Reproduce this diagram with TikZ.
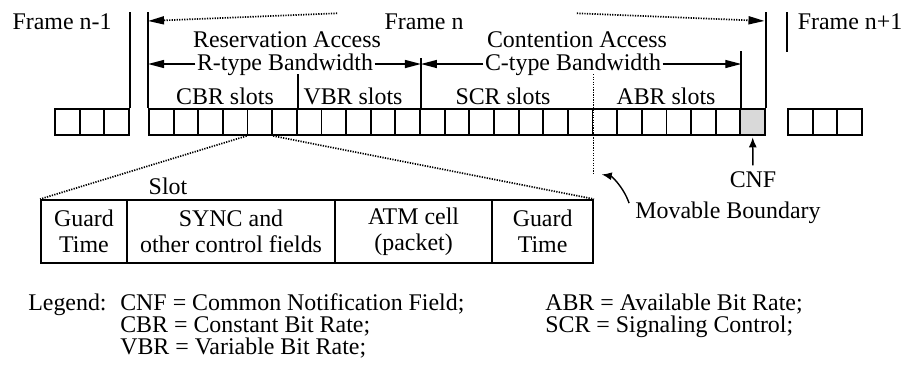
\documentclass[tikz,border=0pt]{standalone}
\usepackage{fontspec}
\setmainfont{Liberation Serif}
\usepackage{tikz}
\usetikzlibrary{
	positioning,						% Relative positioning
	arrows.meta,						% Advanced arrows
	calc								% Calculate point coordinates
}

\begin{document}
\begin{tikzpicture}
		[
		,x=0.025cm, y=-0.025cm
		,node distance = 0pt
		,cell/.style = {
			,draw=black
			,minimum height=0.65cm
			,minimum width=0.616cm
			,inner sep=0pt
			,line width=1.3pt}
		,field/.style = {
			,draw=black
			,minimum height=1.575cm
			,inner sep=0pt
			,align=center
			,line width=1.3pt
			,font=\fontsize{17}{18.5}\selectfont}
		,text_label/.style = {
			,inner sep=0pt
			,anchor=base
			,font=\fontsize{17}{15.6}\selectfont}
		,boundary/.style = {
			,line width=1.3pt}
		,dotted_line/.style = {
			,line width=1.2pt
			,dash pattern=on 0.9pt off 0.9pt}
		,arrow_head/.tip = {
			Triangle[length=4mm, width=2mm]}
		]
		\useasboundingbox (0,0) rectangle (904,371);
		
		% Rows of slots
		\foreach \i in {1,2,3}
			\node [cell] (p\i) at ({129-(3.5-\i)*24.64}, 122) {};
		\foreach \i in {1,...,24}
			\node [cell] (c\i) at ({149+(\i-0.5)*24.64}, 122) {};
		\node [cell, fill=gray!30] (c25) at ({149+24.5*24.64}, 122) {};
		\foreach \i in {1,2,3}
			\node [cell] (q\i) at ({788+(\i-0.5)*24.64}, 122) {};
		
		% Frame boundaries
		\coordinate (top) at (0,12);
		\draw[boundary] (p3.north east) -- (p3.north east |- top);
		\draw[boundary] (c1.north west) -- (c1.north west |- top);
		\draw[boundary] (c25.north east) -- (c25.north east |- top);
		\draw[boundary] (q1.north west |- top) -- ++(0,40);
		\draw[boundary] (c11.north east) -- ++(0,-50);
		\draw[boundary] (c24.north east) -- ++(0,-57);
		\draw[boundary] (c6.north east) -- ++(0,-34);
		\coordinate (mb_end) at ($(c18.south east)+(0,37)$);
		\draw[dotted_line] ($(c18.north east)+(0,-34)$) -- (mb_end);
		
		% Frame labels
		\node[text_label] (frame_prev) at (62,29)  {Frame n-1};
		\node[text_label] (frame_cur)  at (424,29) {Frame n};
		\node[text_label] (frame_next) at (850,29) {Frame n+1};
		\draw[dotted_line, -arrow_head] ($(frame_cur.west)+(-47,-8)$) -- (c1.north west |- 0,21);
		\draw[dotted_line, -arrow_head, shorten >=1pt] ($(frame_cur.east)+(113,-8)$) -- (c25.north east |- 0,21);
		
		% Access and bandwidth
		\node[text_label] (res_access) at (287,47) {Reservation Access};
		\node[text_label] (con_access) at (577,47) {Contention Access};
		\node[text_label, inner xsep=1pt] (r_bw) at (285,70) {R-type Bandwidth};
		\node[text_label, inner xsep=1pt] (c_bw) at (573,70) {C-type Bandwidth};
		\draw[line width=1pt, -arrow_head] (r_bw.west |- 0,64) -- (c1.north west |- 0,64);
		\draw[line width=1pt, -arrow_head] (r_bw.east |- 0,64) -- (c11.north east |- 0,64);
		\draw[line width=1pt, -arrow_head] (c_bw.west |- 0,64) -- (c11.north east |- 0,64);
		\draw[line width=1pt, -arrow_head] (c_bw.east |- 0,64) -- (c24.north east |- 0,64);
		
		% Slot types
		\node[text_label] (cbr) at (225,104) {CBR slots};
		\node[text_label] (vbr) at (353,104) {VBR slots};
		\node[text_label] (scr) at (503,104) {SCR slots};
		\node[text_label] (abr) at (666,104) {ABR slots};
		
		% Slot format
		\node[text_label] (slot_label) at (168,194) {Slot};
		\node[field, minimum width=2.15cm] (guard_a) at (84,231.5) {Guard\\Time};
		\node[field, minimum width=5.2cm, right=-\pgflinewidth of guard_a]   (sync)    {SYNC and\\other control fields};
		\node[field, minimum width=3.925cm, right=-\pgflinewidth of sync]    (atm)     {ATM cell\\(packet)};
		\node[field, minimum width=2.525cm, right=-\pgflinewidth of atm]     (guard_b) {Guard\\Time};
		\draw[dotted_line] (c5.south west) -- (guard_a.north west);
		\draw[dotted_line] (c5.south east) -- (guard_b.north east);
		
		% CNF and movable boundary
		\node[text_label] (cnf_label) at (753,187) {CNF};
		\draw[line width=1pt, -{Latex[length=2.5mm, width=2mm]}, shorten <=4pt, shorten >=1pt] (cnf_label.north) -- (c25.south);
		\node[text_label] (mb_label) at (728,218) {Movable Boundary};
		\draw[line width=1pt, -{Latex[length=2.5mm, width=2mm]}, shorten >=6pt] ($(mb_label.north west)+(-6,2)$) to[bend right=30] (mb_end);
		
		% Legend
		\node[text_label, anchor=base west] (legend) at (28,310) {Legend:};
		\node[text_label, anchor=north west, align=left] (legend_a) at (120,293.5)
			{CNF = Common Notification Field;\\CBR = Constant Bit Rate;\\VBR = Variable Bit Rate;};
		\node[text_label, anchor=north west, align=left] (legend_b) at (545,293.5)
			{ABR = Available Bit Rate;\\SCR = Signaling Control;};
	\end{tikzpicture}
\end{document}
